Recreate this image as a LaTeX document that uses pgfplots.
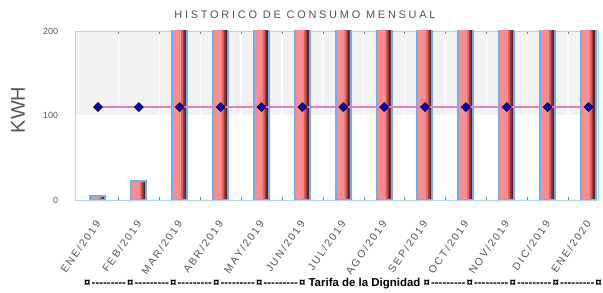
\documentclass[border=0pt]{standalone}
\usepackage{pgfplots}
\pgfplotsset{compat=1.18}
\usepackage{fontspec}
\setmainfont{Liberation Sans}
\definecolor{barpink}{RGB}{255,140,140}
\definecolor{barA}{RGB}{215,100,100}
\definecolor{barB}{RGB}{150,60,60}
\definecolor{barC}{RGB}{90,30,30}
\definecolor{baredge}{RGB}{110,175,240}
\definecolor{axblue}{RGB}{166,216,238}
\definecolor{band}{RGB}{242,242,242}
\definecolor{linepink}{RGB}{232,125,190}
\definecolor{mkblue}{RGB}{0,0,200}
\definecolor{txtgray}{RGB}{85,85,85}
\newcommand\seg{¤\hbox to 36.6bp{\cleaders\hbox{-}\hfill}}
\pgfplotstableread{
x y
0 5
1 23
2 350
3 350
4 350
5 350
6 350
7 350
8 350
9 350
10 350
11 350
12 350
}\consumo
\pgfplotstableread{
x y
0 110
1 110
2 110
3 110
4 110
5 110
6 110
7 110
8 110
9 110
10 110
11 110
12 110
}\tarifa
\begin{document}
\begin{tikzpicture}
\begin{axis}[
  set layers,
  at={(75.7bp,93bp)}, anchor=south west,
  scale only axis, width=523bp, height=169bp,
  xmin=-0.545, xmax=12.25, ymin=0, ymax=200,
  clip=true,
  axis line style={axblue, line width=1pt},
  major tick length=0pt,
  ytick={0,100,200},
  xtick={0,...,12},
  xticklabels={ENE/2019,FEB/2019,MAR/2019,ABR/2019,MAY/2019,JUN/2019,JUL/2019,AGO/2019,SEP/2019,OCT/2019,NOV/2019,DIC/2019,ENE/2020},
  minor xtick={0.5,1.5,...,11.5},
  xminorgrids, minor x grid style={white, line width=1.2pt},
  /pgf/number format/assume math mode=true,
  yticklabel style={font=\fontsize{9}{10}\selectfont, text=txtgray, xshift=-14bp},
  xticklabel style={font=\fontsize{10.5}{11}\selectfont\addfontfeature{LetterSpace=18}, text=txtgray, xshift=2bp, yshift=-19bp, rotate=55, anchor=east},
]
\addplot[fill=band, draw=none, on layer=axis background] coordinates {(-0.545,100) (12.25,100) (12.25,200) (-0.545,200)};
\addplot[ybar, bar width=15bp, bar shift=0bp, fill=barpink, draw=none] table {\consumo};
\addplot[ybar, bar width=5bp, bar shift=4bp, fill=barA, draw=none] table {\consumo};
\addplot[ybar, bar width=3.2bp, bar shift=4.9bp, fill=barB, draw=none] table {\consumo};
\addplot[ybar, bar width=1.6bp, bar shift=5.7bp, fill=barC, draw=none] table {\consumo};
\addplot[ybar, bar width=15bp, bar shift=0bp, fill=none, draw=baredge, line width=2bp] table {\consumo};
\addplot[linepink, line width=1.2bp, mark=square*, mark size=3.2bp,
  mark options={fill=mkblue, draw=black, line width=0.5pt, rotate=45}] table {\tarifa};
\end{axis}
\node[text=txtgray, font=\fontsize{11}{12}\selectfont\addfontfeature{LetterSpace=25}] at (305bp,278bp) {HISTORICO DE CONSUMO MENSUAL};
\node[text=txtgray, rotate=90, font=\fontsize{20}{22}\selectfont] at (18bp,183bp) {KWH};
\node[anchor=base west, inner sep=0pt, font=\fontsize{11.5}{12}\selectfont\bfseries] at (84bp,6.5bp)
  {\seg\seg\seg\seg\seg¤ Tarifa de la Dignidad \seg\seg\seg\seg¤};
\pgfresetboundingbox
\useasboundingbox (0,0) rectangle (603bp,293bp);
\end{tikzpicture}
\end{document}
